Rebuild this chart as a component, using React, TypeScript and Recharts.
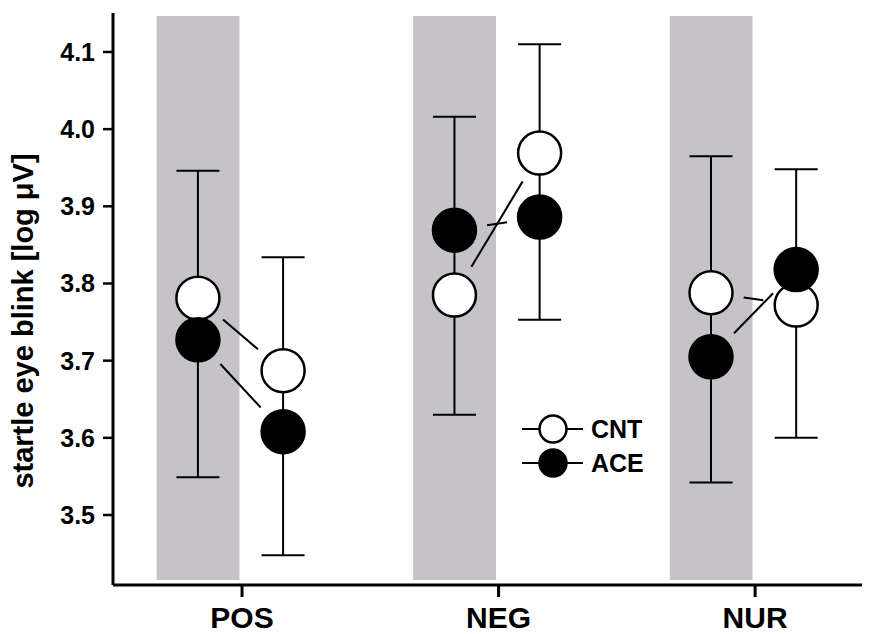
import React from 'react';
import { ScatterChart, Scatter, XAxis, YAxis, ReferenceArea, ErrorBar, Legend } from 'recharts';

// ---- data ----
const categories = ['POS', 'NEG', 'NUR'];
const seriesNames = ['CNT', 'ACE'];
const cntFirst = [3.781, 3.785, 3.788];
const cntSecond = [3.687, 3.969, 3.772];
const aceFirst = [3.727, 3.869, 3.705];
const aceSecond = [3.608, 3.886, 3.818];
const errFirstLow = [3.549, 3.63, 3.542];
const errFirstHigh = [3.946, 4.016, 3.965];
const errSecondLow = [3.448, 3.753, 3.6];
const errSecondHigh = [3.834, 4.11, 3.948];
const yTicks = [3.5, 3.6, 3.7, 3.8, 3.9, 4.0, 4.1];

// ---- layout (category units on x) ----
const categoryPos = [1, 2, 3];
const FIRST_OFF = -0.172;
const SECOND_OFF = 0.16;
const BAND_FROM = -0.333;
const BAND_TO = -0.01;
const BAND_Y = [3.4158, 4.1467];
const FONT = '"Liberation Sans", Arial, Helvetica, sans-serif';

const pairPoints = (first: number[], second: number[]) =>
  categoryPos.flatMap((c, i) => [
    { x: c + FIRST_OFF, y: first[i] },
    { x: c + SECOND_OFF, y: second[i] },
  ]);

const cntData = pairPoints(cntFirst, cntSecond);
const aceData = pairPoints(aceFirst, aceSecond);

const errData = categoryPos.flatMap((c, i) => {
  const m1 = (errFirstLow[i] + errFirstHigh[i]) / 2;
  const m2 = (errSecondLow[i] + errSecondHigh[i]) / 2;
  return [
    { x: c + FIRST_OFF, y: m1, err: [m1 - errFirstLow[i], errFirstHigh[i] - m1] },
    { x: c + SECOND_OFF, y: m2, err: [m2 - errSecondLow[i], errSecondHigh[i] - m2] },
  ];
});

const GAP = 33;
const pairLines = (props: any) => {
  const p = props.points || [];
  const segs: any[] = [];
  for (let i = 0; i + 1 < p.length; i += 2) {
    const a = p[i];
    const b = p[i + 1];
    const dx = b.x - a.x;
    const dy = b.y - a.y;
    const len = Math.hypot(dx, dy);
    if (len <= 2 * GAP) continue;
    const ux = dx / len;
    const uy = dy / len;
    segs.push(
      <line key={i} x1={a.x + ux * GAP} y1={a.y + uy * GAP} x2={b.x - ux * GAP} y2={b.y - uy * GAP}
        stroke="#000" strokeWidth={2} />
    );
  }
  return <g>{segs}</g>;
};

const makeDot = (fill: string) => (props: any) => (
  <circle cx={props.cx} cy={props.cy} r={21.5} fill={fill} stroke="#000" strokeWidth={2.5} />
);

const YLabel = () => (
  <text x={25} y={313} transform="rotate(-90 25 313)" textAnchor="middle"
    style={{ fontFamily: FONT, fontWeight: 'bold', fontSize: 29, fill: '#000' }}>
    startle eye blink [log μV]
  </text>
);

const renderLegend = () => (
  <svg width={160} height={80} style={{ display: 'block' }}>
    {seriesNames.map((name, i) => {
      const y = 19 + i * 34;
      return (
        <g key={name}>
          <line x1={12} y1={y} x2={73} y2={y} stroke="#000" strokeWidth={2} />
          <circle cx={43} cy={y} r={13.5} fill={i === 0 ? '#fff' : '#000'} stroke="#000" strokeWidth={2.5} />
          <text x={81} y={y + 9} style={{ fontFamily: FONT, fontWeight: 'bold', fontSize: 25, fill: '#000' }}>{name}</text>
        </g>
      );
    })}
  </svg>
);

const tickStyle = { fontFamily: FONT, fontWeight: 'bold', fill: '#000' };

export default function App() {
  return (
    <div style={{ width: 862, height: 626 }}>
      <ScatterChart width={862} height={626} margin={{ top: 5, right: 2, bottom: 0, left: 0 }}>
        <XAxis type="number" dataKey="x" domain={[0.497, 3.44]} allowDataOverflow ticks={categoryPos}
          tickFormatter={(v: number) => categories[v - 1]} height={49}
          axisLine={{ stroke: '#000', strokeWidth: 3 }} tickLine={{ stroke: '#000', strokeWidth: 3 }}
          tickSize={12} tickMargin={10} tick={{ ...tickStyle, fontSize: 30 }} interval={0} />
        <YAxis type="number" dataKey="y" domain={[3.4093, 4.1505]} allowDataOverflow ticks={yTicks}
          tickFormatter={(v: number) => v.toFixed(1)} width={105}
          axisLine={{ stroke: '#000', strokeWidth: 3 }} tickLine={{ stroke: '#000', strokeWidth: 2.5 }}
          tickSize={10} tickMargin={8} tick={{ ...tickStyle, fontSize: 25 }} interval={0}
          label={<YLabel />} />
        {categoryPos.map((c) => (
          <ReferenceArea key={c} x1={c + BAND_FROM} x2={c + BAND_TO} y1={BAND_Y[0]} y2={BAND_Y[1]}
            fill="#c5c3c7" fillOpacity={1} stroke="none" ifOverflow="visible" />
        ))}
        <Scatter data={errData} shape={() => <g />} isAnimationActive={false}>
          <ErrorBar dataKey="err" direction="y" width={21.5} stroke="#000" strokeWidth={2} />
        </Scatter>
        <Scatter name={seriesNames[0]} data={cntData} line={pairLines} shape={makeDot('#fff')} isAnimationActive={false} />
        <Scatter name={seriesNames[1]} data={aceData} line={pairLines} shape={makeDot('#000')} isAnimationActive={false} />
        <Legend content={renderLegend} layout="horizontal" verticalAlign="middle" align="center"
          wrapperStyle={{ left: 502, top: 402, width: 160, height: 80 }} />
      </ScatterChart>
    </div>
  );
}
